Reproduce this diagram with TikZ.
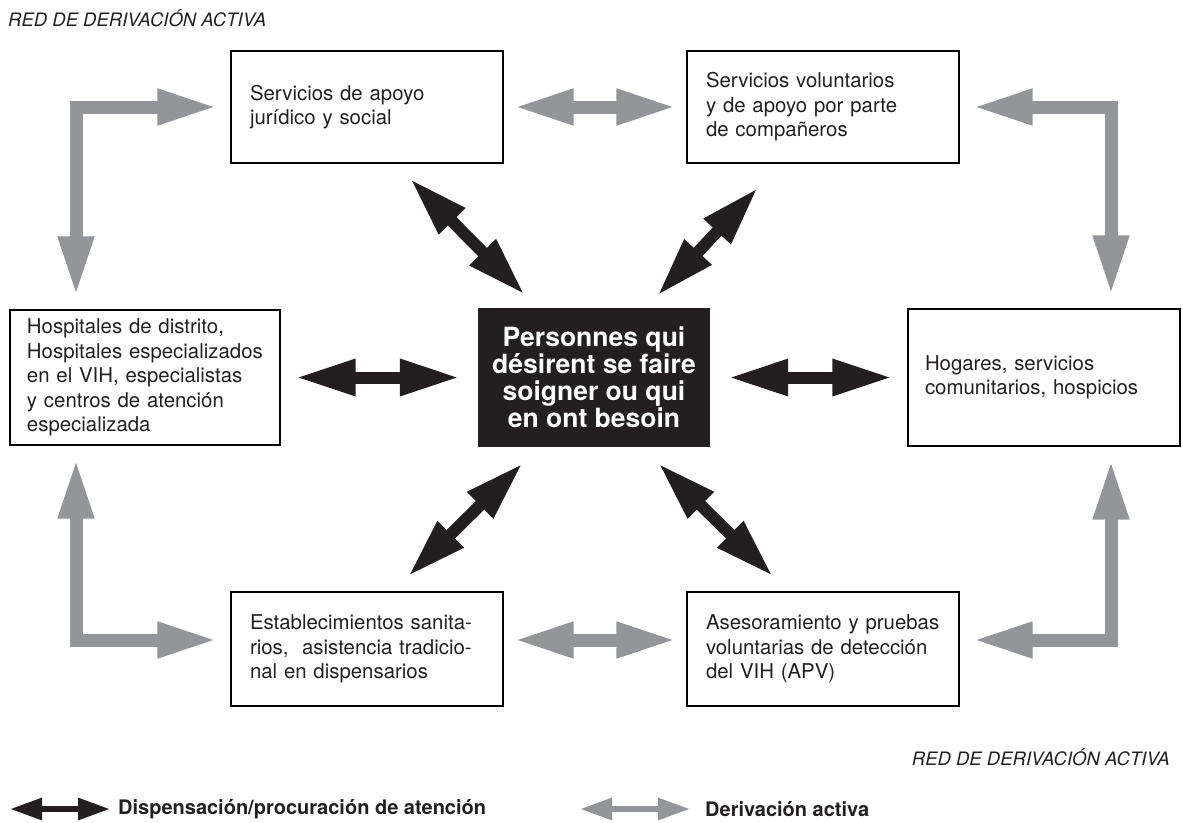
\documentclass[tikz,border=0pt]{standalone}
\usepackage{fontspec}
\setmainfont{TeX Gyre Heros}
\usetikzlibrary{arrows.meta,calc}
\hyphenpenalty=10000
\exhyphenpenalty=10000
\definecolor{arrblack}{HTML}{231F20}
\definecolor{arrgray}{HTML}{939598}
\tikzset{
  box/.style={draw=black, line width=1.3pt, rectangle, inner xsep=19pt, inner ysep=0pt, align=left,
    font=\fontsize{20.4}{24.5}\selectfont, text=arrblack},
  centerbox/.style={fill=arrblack, draw=none, rectangle, align=center, text=white,
    font=\fontsize{26.5}{27}\selectfont\bfseries, minimum width=232pt, minimum height=139pt},
  barrow/.style={draw=arrblack, line width=12pt,
    {Triangle[length=60pt,width=34pt]}-{Triangle[length=60pt,width=34pt]}},
  garrow/.style={draw=arrgray, line width=13pt, line join=miter,
    {Triangle[length=60pt,width=33pt]}-{Triangle[length=60pt,width=33pt]}},
  blegend/.style={draw=arrblack, line width=6pt,
    {Triangle[length=32pt,width=21pt]}-{Triangle[length=32pt,width=21pt]}},
  glegend/.style={draw=arrgray, line width=6pt,
    {Triangle[length=32pt,width=21pt]}-{Triangle[length=32pt,width=21pt]}},
  redtitle/.style={font=\fontsize{18.5}{20}\selectfont\itshape, text=arrblack, inner sep=0pt},
  legendtext/.style={font=\fontsize{20}{22}\selectfont\bfseries, text=arrblack, inner sep=0pt}
}
\begin{document}
\begin{tikzpicture}[x=1pt,y=-1pt]
\useasboundingbox (0,0) rectangle (1183,822);

% boxes
\node[box, text width=234pt, minimum height=112pt] (tl) at (367,107)
  {Servicios de apoyo\\ jurídico y social};
\node[box, text width=234pt, minimum height=112pt] (tr) at (823,107)
  {Servicios voluntarios\\ y de apoyo por parte\\ de compañeros};
\node[box, inner xsep=17pt, text width=236pt, minimum height=135pt] (lm) at (145,377.5)
  {Hospitales de distrito,\\ Hospitales especializados\\ en el VIH, especialistas\\ y centros de atención\\ especializada};
\node[centerbox] (c) at (594,377.5)
  {Personnes qui\\ désirent se faire\\ soigner ou qui\\ en ont besoin};
\node[box, inner xsep=17pt, text width=238pt, minimum height=137pt] (rm) at (1044,377.5)
  {Hogares, servicios\\ comunitarios, hospicios};
\node[box, text width=234pt, minimum height=114pt] (bl) at (367,649)
  {Establecimientos sanita-\\ rios,\ \ asistencia tradicio-\\ nal en dispensarios};
\node[box, text width=234pt, minimum height=114pt] (br) at (823,649)
  {Asesoramiento y pruebas\\ voluntarias de detección\\ del VIH (APV)};

% titles
\node[redtitle, anchor=west] (t1) at (8,18) {RED DE DERIVACIÓN ACTIVA};
\node[redtitle, anchor=east] (t2) at (1170,757) {RED DE DERIVACIÓN ACTIVA};

% black arrows
\draw[barrow] ($(tl.south)+(43,15)$) -- ($(c.north west)+(47,-13)$);
\draw[barrow] ($(tr.south)+(-65,24)$) -- ($(c.north east)+(-53,-12)$);
\draw[barrow] ($(c.south west)+(45,16)$) -- ($(bl.north)+(41,-15)$);
\draw[barrow] ($(c.south east)+(-52,16)$) -- ($(br.north)+(-50,-15)$);
\draw[barrow] ($(lm.east)+(15,0)$) -- ($(c.west)+(-18,0)$);
\draw[barrow] ($(c.east)+(18,0)$) -- ($(rm.west)+(-15,0)$);

% gray arrows
\draw[garrow] ($(tl.east)+(10,0)$) -- ($(tr.west)+(-10,0)$);
\draw[garrow] ($(bl.east)+(10,-9)$) -- ($(br.west)+(-10,-9)$);
\draw[garrow] ($(lm.north)+(-69,-13)$) |- ($(tl.west)+(-13,0)$);
\draw[garrow] ($(rm.north)+(67,-13)$) |- ($(tr.east)+(13,0)$);
\draw[garrow] ($(lm.south)+(-69,13)$) |- ($(bl.west)+(-13,-9)$);
\draw[garrow] ($(rm.south)+(67,13)$) |- ($(br.east)+(13,-9)$);

% legend
\coordinate (lb1) at (10,809);
\coordinate (lb2) at (110,809);
\draw[blegend] (lb1) -- (lb2);
\node[legendtext, anchor=west] (lbt) at (118,809) {Dispensación/procuración de atención};
\coordinate (lg1) at (580,809);
\coordinate (lg2) at (690,809);
\draw[glegend] (lg1) -- (lg2);
\node[legendtext, anchor=west] (lgt) at (705,809) {Derivación activa};
\end{tikzpicture}
\end{document}
